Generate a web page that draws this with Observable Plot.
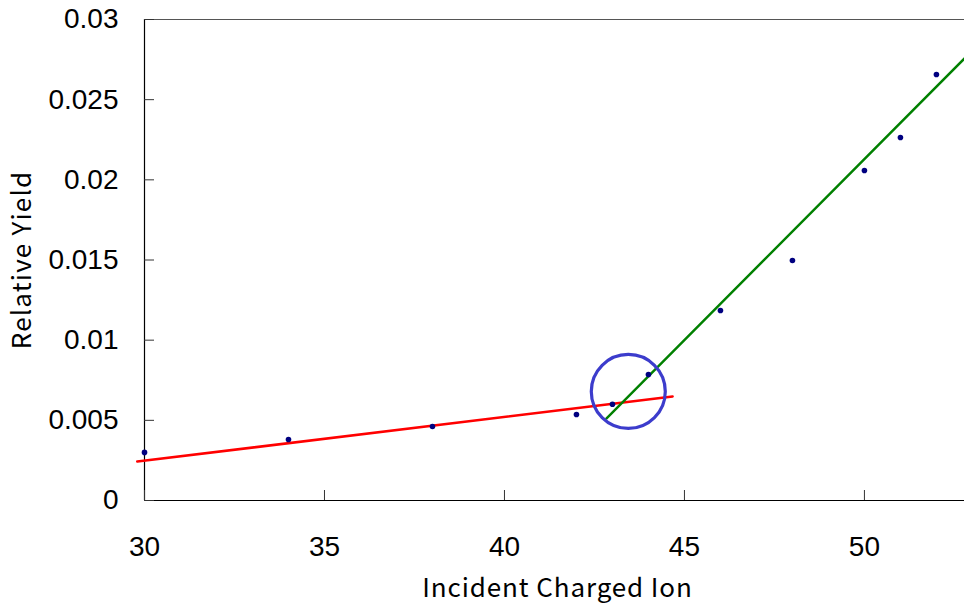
<!DOCTYPE html>
<html>
<head>
<meta charset="utf-8">
<script src="https://cdn.jsdelivr.net/npm/d3@7"></script>
<script src="https://cdn.jsdelivr.net/npm/@observablehq/plot@0.6"></script>
<style>
  html, body { margin: 0; padding: 0; background: #fff; }
  #chart svg { display: block; }
</style>
</head>
<body>
<div id="chart"></div>
<script>
// Measured points
const ions = [30, 34, 38, 42, 43, 44, 46, 48, 50, 51, 52];
const yields = [0.0030, 0.0038, 0.00462, 0.00536, 0.0060, 0.00786, 0.01185, 0.01497, 0.02058, 0.02264, 0.02657];

// Red fit line (low-charge region)
const redX = [29.8, 44.67];
const redY = [0.00243, 0.00649];

// Green fit line (high-charge region)
const greenX = [42.83, 52.78];
const greenY = [0.00511, 0.02757];

// Circle marking the break point
const circleX = [43.44];
const circleY = [0.0068];

// Axis ticks
const xTicks = [30, 35, 40, 45, 50];
const yTicks = [0, 0.005, 0.01, 0.015, 0.02, 0.025, 0.03];
const yTickLabels = ["0", "0.005", "0.01", "0.015", "0.02", "0.025", "0.03"];
const xLabel = "Incident Charged Ion";
const yLabel = "Relative Yield";

const points = ions.map((x, i) => ({x, y: yields[i]}));
const red = redX.map((x, i) => ({x, y: redY[i]}));
const green = greenX.map((x, i) => ({x, y: greenY[i]}));
const circle = circleX.map((x, i) => ({x, y: circleY[i]}));

const tickFont = "'Liberation Sans Narrow', 'Liberation Sans', Arial, sans-serif";
const labelFont = "'Noto Sans CJK JP', sans-serif";

const plot = Plot.plot({
  width: 964,
  height: 603,
  marginLeft: 144,
  marginRight: 0,
  marginTop: 19,
  marginBottom: 103,
  style: {fontFamily: tickFont, fontSize: "28px", color: "#000", background: "#fff"},
  x: {domain: [30, 52.78], label: null},
  y: {domain: [0, 0.03], label: null},
  marks: [
    // frame lines
    Plot.ruleY([0.03], {stroke: "#555", strokeWidth: 1.2}),
    Plot.ruleY([0], {stroke: "#000", strokeWidth: 1.2}),
    Plot.ruleX([30], {stroke: "#000", strokeWidth: 1.2}),
    // inward ticks
    Plot.axisX({ticks: xTicks, tickSize: -10, tickFormat: () => "", stroke: "#333"}),
    Plot.axisY({ticks: yTicks, tickSize: -10, tickFormat: () => "", stroke: "#333"}),
    // tick labels
    Plot.axisX({ticks: xTicks, tickSize: 0, tickPadding: 36, fontSize: 28, tickFormat: d => String(d)}),
    Plot.axisY({ticks: yTicks, tickSize: 0, tickPadding: 26, fontSize: 28, tickFormat: d => yTickLabels[yTicks.indexOf(d)]}),
    // fit lines
    Plot.line(red, {x: "x", y: "y", stroke: "#ff0000", strokeWidth: 2.6, clip: false}),
    Plot.line(green, {x: "x", y: "y", stroke: "#008000", strokeWidth: 2.4, clip: false}),
    // points
    Plot.dot(points, {x: "x", y: "y", r: 2.8, fill: "#000080", stroke: "none"}),
    // circle
    Plot.dot(circle, {x: "x", y: "y", r: 37, stroke: "#3c3ccc", strokeWidth: 3.2, fill: "none"}),
    // axis titles
    Plot.text([xLabel], {text: d => d, frameAnchor: "bottom", lineAnchor: "middle", textAnchor: "middle", dy: 88, dx: 3, fontSize: 26, fontFamily: labelFont, fill: "#000", style: "letter-spacing:0.9px"}),
    Plot.text([yLabel], {text: d => d, frameAnchor: "left", lineAnchor: "middle", textAnchor: "middle", dx: -122, rotate: -90, fontSize: 26, fontFamily: labelFont, fill: "#000"})
  ]
});
// letter spacing for axis titles
plot.querySelectorAll("text").forEach(t => {
  if (t.textContent === xLabel) t.setAttribute("letter-spacing", "0.9");
  if (t.textContent === yLabel) t.setAttribute("letter-spacing", "1.2");
});
document.getElementById("chart").appendChild(plot);
</script>
</body>
</html>
